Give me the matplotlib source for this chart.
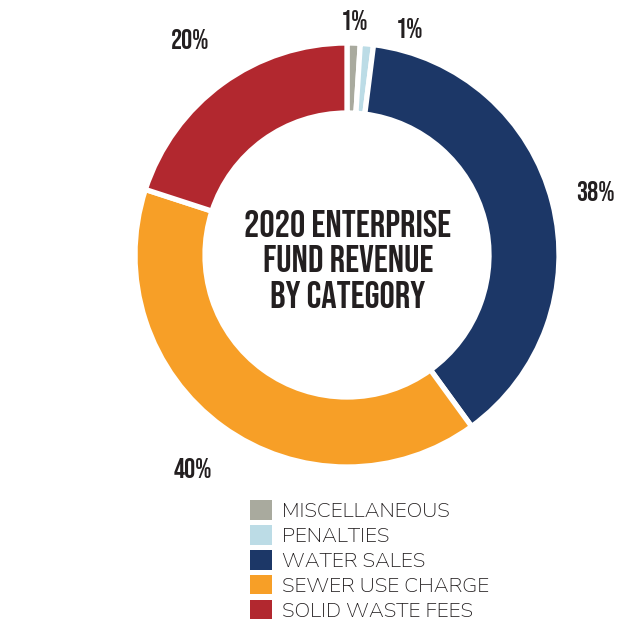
import numpy as np
import matplotlib
matplotlib.use('Agg')
import matplotlib.pyplot as plt
from matplotlib.patches import Patch
from matplotlib import font_manager as fm

# Receita do fundo por categoria (percentuais)
categorias = ['MISCELLANEOUS', 'PENALTIES', 'WATER SALES', 'SEWER USE CHARGE', 'SOLID WASTE FEES']
percentuais = [1, 1, 38, 40, 20]
rotulos = ['1%', '1%', '38%', '40%', '20%']
cores = ['#a9aa9e', '#bcdce6', '#1c3767', '#f79f27', '#b2282f']

titulo = '2020 ENTERPRISE\nFUND REVENUE\nBY CATEGORY'

instaladas = {f.name for f in fm.fontManager.ttflist}


def escolhe(opcoes):
    return [n for n in opcoes if n in instaladas] + ['DejaVu Sans']


fonte_titulo = escolhe(['Bebas Neue', 'Oswald', 'League Gothic', 'Fjalla One', 'Anton'])
fonte_legenda = escolhe(['Nunito Sans', 'Mulish', 'Lato'])

fig = plt.figure(figsize=(6.38, 6.32), dpi=100)
ax = fig.add_axes([0, 0, 1, 1])

cx, cy, raio = 347, 632 - 255, 212

wedges, _ = ax.pie(percentuais, colors=cores, startangle=90, counterclock=False,
                   center=(cx, cy), radius=raio,
                   wedgeprops=dict(width=70, edgecolor='white', linewidth=3.8))

ax.set_xlim(0, 638)
ax.set_ylim(0, 632)
ax.set_aspect('equal')
ax.axis('off')

# rótulos percentuais fora do anel
dist_rotulo = [1.11, 1.11, 1.21, 1.24, 1.26]
desvio = [0, -10, 0, 0, 0]
for w, txt, d, dv in zip(wedges, rotulos, dist_rotulo, desvio):
    ang = np.deg2rad((w.theta1 + w.theta2) / 2 + dv)
    x = cx + raio * d * np.cos(ang)
    y = cy + raio * d * np.sin(ang)
    ax.text(x, y, txt, ha='center', va='center', fontsize=20,
            family=fonte_titulo, color='#231f20')

ax.text(cx + 1, 632 - 259, titulo, ha='center', va='center', fontsize=27.5,
        family=fonte_titulo, color='#231f20', linespacing=1.3)

handles = [Patch(facecolor=c, edgecolor='none') for c in cores]
leg = fig.legend(handles, categorias, loc='upper left', bbox_to_anchor=(242 / 638, 1 - 492 / 632),
                 frameon=False, handlelength=1.05, handleheight=1.05, handletextpad=0.45,
                 labelspacing=0.2, borderaxespad=0,
                 prop=dict(family=fonte_legenda, size=15))
for t in leg.get_texts():
    t.set_color('#231f20')

fig.savefig('out.png', dpi=100)
